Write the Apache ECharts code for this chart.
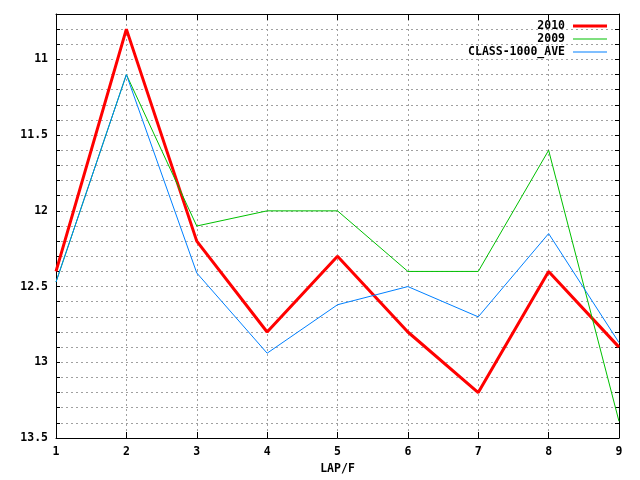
<!DOCTYPE html>
<html><head><meta charset="utf-8">
<script src="https://cdn.jsdelivr.net/npm/echarts@6/dist/echarts.min.js"></script>
<style>html,body{margin:0;padding:0;background:#fff}#c{width:640px;height:480px}</style>
</head><body><div id="c"></div>
<script>
const laps = [1, 2, 3, 4, 5, 6, 7, 8, 9];
const s2010 = [12.4, 10.8, 12.2, 12.8, 12.3, 12.8, 13.2, 12.4, 12.9];
const s2009 = [12.47, 11.1, 12.1, 12.0, 12.0, 12.4, 12.4, 11.6, 13.39];
const sAve = [12.47, 11.1, 12.41, 12.94, 12.62, 12.5, 12.7, 12.15, 12.87];
const names = ['2010', '2009', 'CLASS-1000_AVE'];
const colors = ['#ff0000', '#00c000', '#0080ff'];
const widths = [3, 1, 1];
const seriesData = [s2010, s2009, sAve];

const font = {fontFamily: 'DejaVu Sans Mono', fontWeight: 'bold', fontSize: 11.5, color: '#000'};
const gridLine = {show: true, lineStyle: {color: '#a0a0a0', width: 1, type: [2, 3]}};
const axisLine = {show: true, onZero: false, lineStyle: {color: '#000', width: 1}};

const chart = echarts.init(document.getElementById('c'), null, {renderer: 'canvas'});
chart.setOption({
  backgroundColor: '#fff',
  animation: false,
  grid: {left: 56, right: 21, top: 14, bottom: 40, containLabel: false},
  legend: names.map((n, i) => ({
    data: [n], right: 33, top: 20 + i * 13, align: 'right', orient: 'vertical',
    icon: 'rect', itemWidth: 34, itemHeight: widths[i] === 3 ? 3 : 1, itemGap: 8,
    padding: 0, selectedMode: false,
    textStyle: Object.assign({}, font, {padding: [0, 3, 0, 0]})
  })),
  xAxis: [{
    type: 'value', min: 1, max: 9, interval: 1, position: 'bottom',
    name: 'LAP/F', nameLocation: 'middle', nameGap: 25, nameTextStyle: font,
    axisLine: axisLine, axisTick: {show: true, inside: true, length: 6, lineStyle: {color: '#000'}},
    axisLabel: Object.assign({margin: 8}, font),
    splitLine: gridLine
  }, {
    type: 'value', min: 1, max: 9, interval: 1, position: 'top',
    axisLine: axisLine, axisTick: {show: true, inside: true, length: 6, lineStyle: {color: '#000'}},
    axisLabel: {show: false}, splitLine: {show: false}
  }],
  yAxis: [{
    type: 'value', min: 10.7, max: 13.5, interval: 0.1, inverse: true, position: 'left',
    axisLine: axisLine, axisTick: {show: true, inside: true, length: 4, lineStyle: {color: '#000'}},
    axisLabel: Object.assign({margin: 8, formatter: function (v) {
      return Math.abs(v * 2 - Math.round(v * 2)) < 1e-6 ? String(+v.toFixed(1)) : '';
    }}, font),
    splitLine: gridLine
  }, {
    type: 'value', min: 10.7, max: 13.5, interval: 0.1, inverse: true, position: 'right',
    axisLine: axisLine, axisTick: {show: true, inside: true, length: 4, lineStyle: {color: '#000'}},
    axisLabel: {show: false}, splitLine: {show: false}
  }],
  series: names.map((n, i) => ({
    name: n, type: 'line', xAxisIndex: 0, yAxisIndex: 0,
    data: laps.map((x, j) => [x, seriesData[i][j]]),
    showSymbol: false, symbol: 'none',
    lineStyle: {color: colors[i], width: widths[i]},
    itemStyle: {color: colors[i]}
  }))
});
</script></body></html>
